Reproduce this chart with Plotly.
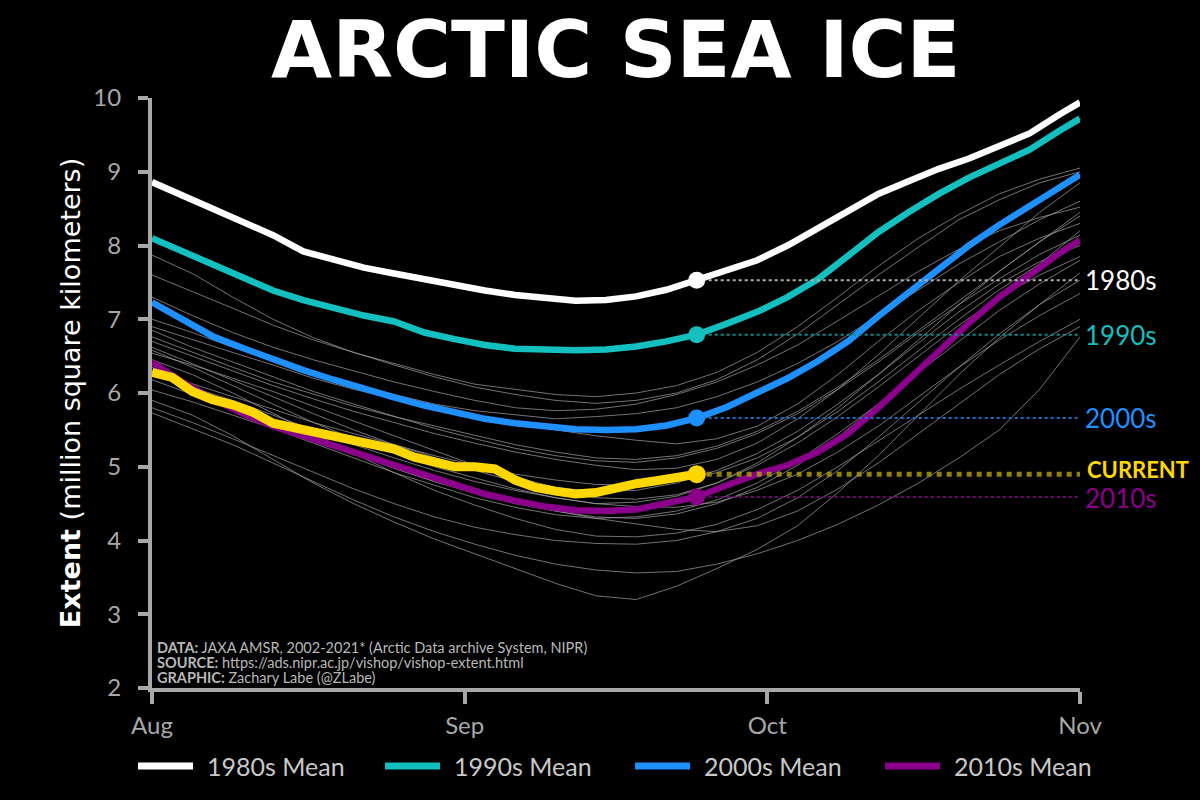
import plotly.graph_objects as go

# ---------------- data ----------------
month_ticks = [0, 31, 61, 92]
month_labels = ["Aug", "Sep", "Oct", "Nov"]

# individual years 2002-2021 (days since Aug 1, every 4 days)
year_days = [0, 4, 8, 12, 16, 20, 24, 28, 32, 36, 40, 44, 48, 52, 56, 60, 64, 68, 72, 76, 80, 84, 88, 92]
y2002 = [7.00, 6.82, 6.62, 6.45, 6.30, 6.12, 5.98, 5.85, 5.76, 5.70, 5.65, 5.68, 5.72, 5.80, 5.95, 6.15, 6.40, 6.70, 7.05, 7.40, 7.75, 8.05, 8.35, 8.60]
y2003 = [7.60, 7.38, 7.15, 6.92, 6.72, 6.55, 6.40, 6.25, 6.12, 6.05, 5.98, 5.95, 6.00, 6.10, 6.28, 6.55, 6.90, 7.30, 7.72, 8.10, 8.42, 8.70, 8.90, 9.05]
y2004 = [7.87, 7.62, 7.30, 7.00, 6.75, 6.55, 6.38, 6.22, 6.08, 5.98, 5.90, 5.86, 5.90, 6.00, 6.18, 6.45, 6.80, 7.20, 7.60, 7.98, 8.35, 8.62, 8.85, 9.00]
y2005 = [6.90, 6.72, 6.55, 6.38, 6.20, 6.05, 5.92, 5.80, 5.68, 5.58, 5.50, 5.42, 5.36, 5.31, 5.38, 5.55, 5.85, 6.25, 6.70, 7.12, 7.50, 7.85, 8.10, 8.30]
y2006 = [7.30, 7.05, 6.82, 6.62, 6.45, 6.30, 6.15, 6.02, 5.90, 5.80, 5.76, 5.78, 5.85, 5.98, 6.15, 6.38, 6.65, 6.98, 7.32, 7.65, 7.95, 8.20, 8.38, 8.52]
y2007 = [6.35, 6.10, 5.85, 5.62, 5.40, 5.18, 4.98, 4.80, 4.65, 4.52, 4.40, 4.30, 4.22, 4.15, 4.12, 4.20, 4.40, 4.70, 5.05, 5.45, 5.85, 6.25, 6.60, 6.90]
y2008 = [6.62, 6.40, 6.18, 5.95, 5.72, 5.50, 5.30, 5.12, 4.95, 4.80, 4.68, 4.58, 4.56, 4.62, 4.78, 5.05, 5.40, 5.80, 6.25, 6.72, 7.20, 7.65, 8.05, 8.40]
y2009 = [6.85, 6.62, 6.42, 6.22, 6.02, 5.85, 5.68, 5.52, 5.38, 5.25, 5.15, 5.08, 5.06, 5.12, 5.25, 5.45, 5.72, 6.05, 6.42, 6.82, 7.20, 7.55, 7.88, 8.14]
y2010 = [6.54, 6.38, 6.20, 6.02, 5.82, 5.62, 5.42, 5.22, 5.02, 4.86, 4.72, 4.66, 4.68, 4.78, 4.95, 5.18, 5.48, 5.85, 6.25, 6.68, 7.10, 7.48, 7.78, 8.00]
y2011 = [6.04, 5.88, 5.70, 5.52, 5.32, 5.12, 4.92, 4.75, 4.58, 4.45, 4.35, 4.30, 4.32, 4.40, 4.55, 4.78, 5.08, 5.45, 5.85, 6.28, 6.70, 7.12, 7.48, 7.80]
y2012 = [5.90, 5.70, 5.42, 5.10, 4.78, 4.50, 4.25, 4.02, 3.82, 3.62, 3.42, 3.25, 3.20, 3.38, 3.62, 3.88, 4.20, 4.65, 5.15, 5.70, 6.25, 6.75, 7.20, 7.63]
y2013 = [6.76, 6.55, 6.35, 6.15, 5.98, 5.82, 5.68, 5.55, 5.42, 5.30, 5.20, 5.12, 5.10, 5.15, 5.28, 5.48, 5.75, 6.08, 6.45, 6.85, 7.25, 7.65, 8.05, 8.45]
y2014 = [6.70, 6.50, 6.30, 6.10, 5.92, 5.75, 5.60, 5.45, 5.32, 5.20, 5.10, 5.02, 4.96, 4.98, 5.10, 5.32, 5.65, 6.05, 6.52, 7.02, 7.52, 7.98, 8.45, 8.85]
y2015 = [6.18, 5.98, 5.78, 5.58, 5.38, 5.18, 4.98, 4.80, 4.64, 4.50, 4.40, 4.32, 4.30, 4.36, 4.50, 4.72, 5.02, 5.40, 5.85, 6.32, 6.80, 7.30, 7.75, 8.20]
y2016 = [6.45, 6.25, 6.00, 5.72, 5.45, 5.18, 4.92, 4.68, 4.48, 4.30, 4.15, 4.06, 4.05, 4.10, 4.22, 4.42, 4.68, 5.00, 5.35, 5.70, 6.05, 6.38, 6.70, 7.00]
y2017 = [6.58, 6.35, 6.10, 5.85, 5.60, 5.38, 5.18, 5.00, 4.85, 4.70, 4.58, 4.50, 4.52, 4.60, 4.78, 5.02, 5.32, 5.68, 6.08, 6.50, 6.92, 7.30, 7.60, 7.85]
y2018 = [6.25, 6.08, 5.90, 5.70, 5.50, 5.30, 5.12, 4.95, 4.80, 4.68, 4.58, 4.50, 4.46, 4.45, 4.52, 4.68, 4.90, 5.20, 5.55, 5.95, 6.35, 6.72, 7.05, 7.35]
y2019 = [5.80, 5.60, 5.38, 5.15, 4.92, 4.70, 4.50, 4.32, 4.18, 4.08, 4.00, 3.96, 3.95, 4.00, 4.12, 4.30, 4.58, 4.95, 5.40, 5.88, 6.35, 6.80, 7.20, 7.53]
y2020 = [5.73, 5.52, 5.30, 5.05, 4.80, 4.55, 4.32, 4.12, 3.95, 3.80, 3.68, 3.60, 3.56, 3.58, 3.68, 3.82, 4.00, 4.22, 4.48, 4.78, 5.12, 5.50, 6.05, 6.76]
y2021 = [6.30, 6.12, 5.95, 5.78, 5.60, 5.45, 5.30, 5.15, 5.02, 4.90, 4.82, 4.76, 4.75, 4.80, 4.92, 5.12, 5.40, 5.75, 6.15, 6.58, 7.00, 7.40, 7.75, 8.05]
years = [y2002, y2003, y2004, y2005, y2006, y2007, y2008, y2009, y2010, y2011,
         y2012, y2013, y2014, y2015, y2016, y2017, y2018, y2019, y2020, y2021]

# decadal means (every 3 days)
mean_days = [0, 3, 6, 9, 12, 15, 18, 21, 24, 27, 30, 33, 36, 39, 42, 45, 48, 51, 54,
             57, 60, 63, 66, 69, 72, 75, 78, 81, 84, 87, 90, 92]
mean_1980s = [8.86, 8.68, 8.50, 8.30, 8.14, 7.92, 7.81, 7.70, 7.62, 7.54, 7.46, 7.39, 7.33, 7.28, 7.25, 7.26, 7.31, 7.40, 7.53,
              7.66, 7.80, 8.00, 8.24, 8.47, 8.70, 8.87, 9.04, 9.18, 9.34, 9.52, 9.78, 9.94]
mean_1990s = [8.10, 7.92, 7.74, 7.55, 7.39, 7.26, 7.15, 7.05, 6.97, 6.82, 6.73, 6.65, 6.60, 6.58, 6.58, 6.59, 6.63, 6.70, 6.79,
              6.94, 7.10, 7.30, 7.54, 7.86, 8.18, 8.45, 8.70, 8.92, 9.12, 9.30, 9.56, 9.72]
mean_2000s = [7.23, 7.00, 6.77, 6.61, 6.45, 6.31, 6.18, 6.05, 5.94, 5.83, 5.74, 5.65, 5.59, 5.54, 5.51, 5.50, 5.51, 5.56, 5.66,
              5.81, 6.00, 6.20, 6.43, 6.70, 7.04, 7.36, 7.70, 8.00, 8.28, 8.54, 8.80, 8.96]
mean_2010s = [6.42, 6.15, 5.92, 5.72, 5.55, 5.42, 5.29, 5.16, 5.02, 4.88, 4.75, 4.63, 4.54, 4.46, 4.41, 4.40, 4.42, 4.50, 4.59,
              4.75, 4.90, 5.02, 5.20, 5.45, 5.80, 6.18, 6.58, 6.95, 7.30, 7.60, 7.90, 8.07]

# current year (every 2 days, through Sep 24)
current_days = [0, 2, 4, 6, 8, 10, 12, 14, 16, 18, 20, 22, 24, 26, 28, 30, 32, 34, 36, 38, 40, 42, 44, 46, 48, 50, 52, 54]
current = [6.28, 6.21, 6.02, 5.91, 5.84, 5.74, 5.59, 5.53, 5.48, 5.43, 5.36, 5.30, 5.24, 5.13, 5.05, 5.00, 5.00, 4.97,
           4.82, 4.72, 4.67, 4.63, 4.65, 4.72, 4.77, 4.81, 4.84, 4.90]
last_day = 54

decade_names = ["1980s", "1990s", "2000s", "2010s"]
decade_means = [mean_1980s, mean_1990s, mean_2000s, mean_2010s]
decade_colors = ["#ffffff", "#14bfbf", "#1e90ff", "#8b008b"]
dotted_colors = ["#b0b0b0", "#0e8c8c", "#1a6cc0", "#6e0a6e"]
label_shifts = [0, 0, 0, -1]

# ---------------- figure ----------------
fig = go.Figure()

for ys in years:
    fig.add_trace(go.Scatter(x=year_days, y=ys, mode="lines",
                             line=dict(color="rgba(160,160,160,0.75)", width=0.95),
                             showlegend=False, hoverinfo="skip"))

for name, ys, col in zip(decade_names, decade_means, decade_colors):
    fig.add_trace(go.Scatter(x=mean_days, y=ys, mode="lines", name=name + " Mean",
                             line=dict(color=col, width=6.5), showlegend=False))

fig.add_trace(go.Scatter(x=current_days, y=current, mode="lines",
                         line=dict(color="#ffd700", width=9), showlegend=False))

# dotted reference lines from the current date
end_idx = mean_days.index(last_day)
for ys, dcol in zip(decade_means, dotted_colors):
    v = ys[end_idx]
    fig.add_trace(go.Scatter(x=[last_day, 92], y=[v, v], mode="lines",
                             line=dict(color=dcol, width=2, dash="dot"),
                             showlegend=False, hoverinfo="skip"))
fig.add_trace(go.Scatter(x=[last_day, 92], y=[current[-1], current[-1]], mode="lines",
                         line=dict(color="rgba(170,150,20,0.85)", width=5, dash="dot"),
                         showlegend=False, hoverinfo="skip"))

# end-point markers
for ys, col in zip(decade_means, decade_colors):
    fig.add_trace(go.Scatter(x=[last_day], y=[ys[end_idx]], mode="markers",
                             marker=dict(color=col, size=17), showlegend=False))
fig.add_trace(go.Scatter(x=[last_day], y=[current[-1]], mode="markers",
                         marker=dict(color="#ffd700", size=18), showlegend=False))

# right-hand labels
for name, ys, col, sh in zip(decade_names, decade_means, decade_colors, label_shifts):
    fig.add_annotation(x=92, y=ys[end_idx], xref="x", yref="y", text=name,
                       showarrow=False, xanchor="left", yanchor="middle", xshift=3, yshift=sh,
                       font=dict(family="Lato", size=26, color=col))
fig.add_annotation(x=92, y=current[-1], xref="x", yref="y", text="<b>CURRENT</b>",
                   showarrow=False, xanchor="left", yanchor="middle", xshift=5, yshift=5,
                   font=dict(family="Lato", size=22, color="#ffd700"))

# data source text (three lines)
src_lines = ["<b>DATA:</b> JAXA AMSR, 2002-2021* (Arctic Data archive System, NIPR)",
             "<b>SOURCE:</b> https://ads.nipr.ac.jp/vishop/vishop-extent.html",
             "<b>GRAPHIC:</b> Zachary Labe (@ZLabe)"]
src_y = [0.0678, 0.0424, 0.0186]
for txt, yy in zip(src_lines, src_y):
    fig.add_annotation(xref="paper", yref="paper", x=0.003, y=yy, xanchor="left", yanchor="middle",
                       align="left", showarrow=False, text=txt,
                       font=dict(family="Lato", size=14.5, color="#b8b8b8"))

# legend drawn below the axis
leg_x0 = [-0.0151, 0.2511, 0.5205, 0.7899]
leg_len = 0.0593
leg_y = -0.1322
for name, col, x0 in zip(decade_names, decade_colors, leg_x0):
    fig.add_shape(type="line", xref="paper", yref="paper", x0=x0, x1=x0 + leg_len, y0=leg_y, y1=leg_y,
                  line=dict(color=col, width=7))
    fig.add_annotation(xref="paper", yref="paper", x=x0 + leg_len + 0.0125, y=leg_y,
                       xanchor="left", yanchor="middle", showarrow=False, text=name + " Mean",
                       font=dict(family="Lato", size=25, color="#c8c8c8"))

# main title as an annotation anchored at the top of the page
fig.add_annotation(xref="paper", yref="paper", x=0.5, y=1.1610, xanchor="center", yanchor="top",
                   showarrow=False, text="<b>ARCTIC SEA ICE</b>", borderpad=0,
                   font=dict(family="DejaVu Sans", size=79, color="white"))

axis_col = "#a8a8a8"
fig.update_layout(
    width=1200, height=800,
    paper_bgcolor="black", plot_bgcolor="black",
    margin=dict(l=152, r=120, t=98, b=112),
    xaxis=dict(range=[0, 92], tickvals=month_ticks, ticktext=month_labels,
               showgrid=False, zeroline=False, showline=True, linecolor=axis_col, linewidth=4,
               ticks="outside", ticklen=12, tickwidth=4, tickcolor=axis_col, ticklabelstandoff=1,
               tickfont=dict(family="Lato", size=24, color=axis_col)),
    yaxis=dict(range=[2, 10], dtick=1, showgrid=False, zeroline=False,
               showline=True, linecolor=axis_col, linewidth=4,
               ticks="outside", ticklen=10, tickwidth=4, tickcolor=axis_col, ticklabelstandoff=12,
               tickfont=dict(family="Lato", size=24, color=axis_col),
               title=dict(text="<b>Extent</b> (million square kilometers)", standoff=6,
                          font=dict(family="DejaVu Sans", size=27, color="white"))),
    showlegend=False,
)

fig.write_html("out.html")
